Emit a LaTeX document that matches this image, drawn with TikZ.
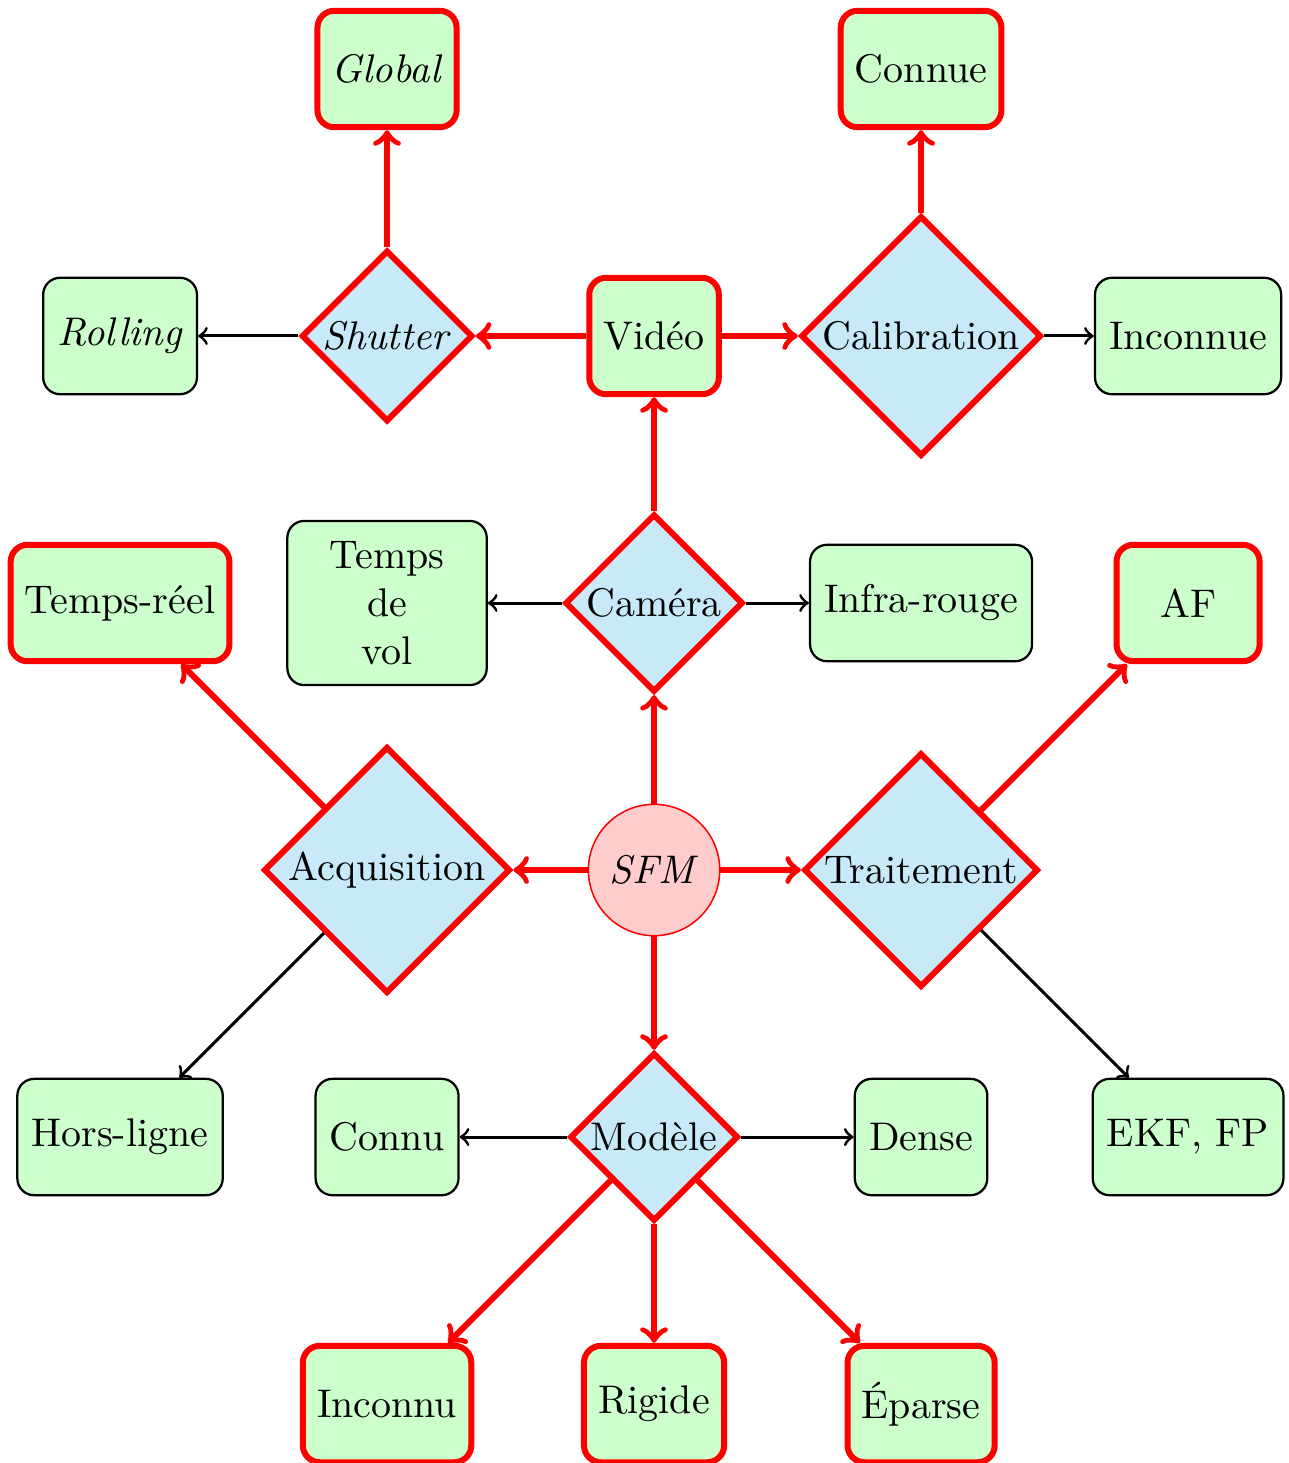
\documentclass[tikz,border=0pt]{standalone}
\usepackage{tikz}
\usetikzlibrary{shapes.geometric}
\usetikzlibrary{calc,arrows}
\definecolor{bleuclair}{RGB}{199,233,248}

\begin{document}
\begin{tikzpicture}[x=1cm,y=1cm,font=\fontsize{10.65}{12.8}\selectfont,
		boite/.style={draw,semithick,rounded corners=4.5pt,fill=green!20,minimum width=1cm,minimum height=1.09cm,inner xsep=3.8pt,inner ysep=4pt},
		boiterouge/.style={boite,draw=red,ultra thick},
		choix/.style={diamond,aspect=1,draw=red,ultra thick,fill=bleuclair,inner sep=0.9pt},
		racine/.style={circle,draw=red,fill=red!20,minimum size=1.23cm,inner sep=1pt},
		lien/.style={->,thick},
		chemin/.style={->,red,ultra thick}]
		\useasboundingbox (-6.124,-5.552) rectangle (5.936,8.146);
		
		%racine
		\node[racine] (sfm) at (0,0) {\textit{SFM}};
		
		%decisions
		\node[choix] (acq) at (-2.5,0) {Acquisition};
		\node[choix] (trt) at (2.5,0) {Traitement};
		\node[choix] (cam) at (0,2.5) {Caméra};
		\node[choix] (mod) at (0,-2.5) {Modèle};
		\node[choix] (sht) at (-2.5,5) {\textit{Shutter}};
		\node[choix] (cal) at (2.5,5) {Calibration};
		
		%feuilles
		\node[boiterouge] (tr) at (-5,2.5) {Temps-réel};
		\node[boite] (hl) at (-5,-2.5) {Hors-ligne};
		\node[boiterouge,minimum width=1.34cm] (af) at (5,2.5) {AF};
		\node[boite] (ekf) at (5,-2.5) {EKF, FP};
		\node[boite,text width=1.6cm,align=center,inner ysep=5.4pt] (tdv) at (-2.5,2.5) {Temps\\de\\vol};
		\node[boite] (ir) at (2.5,2.5) {Infra-rouge};
		\node[boiterouge] (vid) at (0,5) {Vidéo};
		\node[boite] (rol) at (-5,5) {\textit{Rolling}};
		\node[boiterouge] (glb) at (-2.5,7.5) {\textit{Global}};
		\node[boiterouge] (cnn) at (2.5,7.5) {Connue};
		\node[boite] (inc) at (5,5) {Inconnue};
		\node[boite] (con) at (-2.5,-2.5) {Connu};
		\node[boite] (den) at (2.5,-2.5) {Dense};
		\node[boiterouge] (inu) at (-2.5,-5) {Inconnu};
		\node[boiterouge] (rig) at (0,-5) {Rigide};
		\node[boiterouge] (epa) at (2.5,-5) {Éparse};
		
		%chemin choisi
		\draw[chemin] (sfm) -- (acq);
		\draw[chemin] (sfm) -- (trt);
		\draw[chemin] (sfm) -- (cam);
		\draw[chemin] (sfm) -- (mod);
		\draw[chemin] (acq) -- (tr);
		\draw[chemin] (trt) -- (af);
		\draw[chemin] (cam) -- (vid);
		\draw[chemin] (vid) -- (sht);
		\draw[chemin] (vid) -- (cal);
		\draw[chemin] (sht) -- (glb);
		\draw[chemin] (cal) -- (cnn);
		\draw[chemin] (mod) -- (inu);
		\draw[chemin] (mod) -- (rig);
		\draw[chemin] (mod) -- (epa);
		
		%autres
		\draw[lien] (acq) -- (hl);
		\draw[lien] (trt) -- (ekf);
		\draw[lien] (cam) -- (tdv);
		\draw[lien] (cam) -- (ir);
		\draw[lien] (sht) -- (rol);
		\draw[lien] (cal) -- (inc);
		\draw[lien] (mod) -- (con);
		\draw[lien] (mod) -- (den);
		
\end{tikzpicture}
\end{document}
